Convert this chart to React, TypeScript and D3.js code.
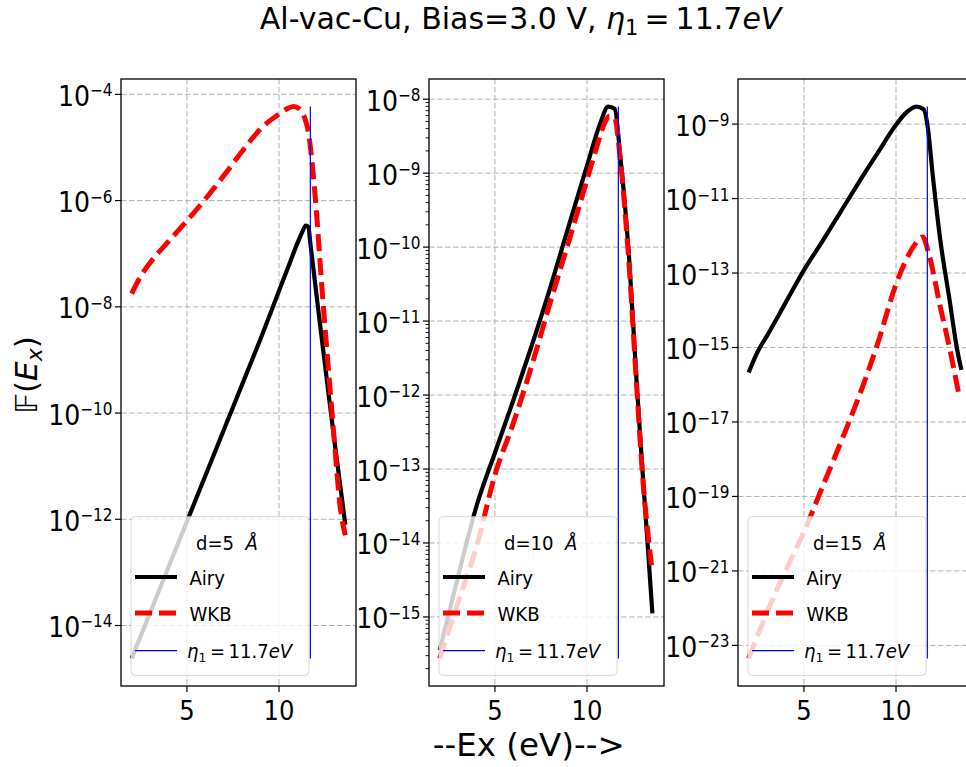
import React from "react";
import * as d3 from "d3";

// ---------------- data ----------------
const PANEL_D = ["5", "10", "15"];
const ETA1 = 11.7;
const X_TICKS = [5, 10];

// d = 5 Å
const D5_AIRY_X = [2, 3, 4, 5, 6, 7, 8, 9, 10, 10.5, 11, 11.25, 11.45, 11.6, 11.7, 12.2, 12.67, 13.0, 13.3, 13.6];
const D5_AIRY_Y = [2.4e-15, 1.74e-14, 1.26e-13, 9.1e-13, 6.6e-12, 4.79e-11, 3.47e-10, 2.51e-9, 2.0e-8, 5.62e-8, 1.58e-7, 2.51e-7, 3.39e-7, 3.16e-7, 1.58e-7, 5.6e-9, 2.6e-10, 3.16e-11, 5.0e-12, 7.9e-13];
const D5_WKB_X = [2, 2.5, 3, 4, 5, 6, 7, 8, 9, 10, 10.5, 10.8, 11.1, 11.4, 11.6, 11.8, 12.03, 12.3, 12.76, 13.0, 13.3, 13.6];
const D5_WKB_Y = [1.78e-8, 3.8e-8, 6.76e-8, 1.7e-7, 4.17e-7, 1.07e-6, 2.95e-6, 8.51e-6, 2.24e-5, 4.27e-5, 5.5e-5, 5.89e-5, 5.37e-5, 3.55e-5, 1.9e-5, 5.0e-6, 6.3e-7, 3.16e-8, 3.16e-10, 3.16e-11, 2.0e-12, 5.0e-13];

// d = 10 Å
const D10_AIRY_X = [2, 3, 4, 5, 6, 7, 8, 9, 10, 10.7, 11.15, 11.5, 11.8, 12.3, 12.7, 13.05, 13.3, 13.55];
const D10_AIRY_Y = [3.55e-16, 3.55e-15, 3.16e-14, 1.66e-13, 8.51e-13, 4.68e-12, 2.82e-11, 1.91e-10, 1.26e-9, 4.57e-9, 7.94e-9, 7.41e-9, 1.78e-9, 6.31e-11, 1.41e-12, 6.92e-14, 8.91e-15, 1.12e-15];
const D10_WKB_X = [2, 3, 4, 5, 6, 7, 8, 9, 10, 10.5, 11, 11.2, 11.5, 11.8, 12.3, 12.7, 13.05, 13.3, 13.5];
const D10_WKB_Y = [2.75e-16, 1.58e-15, 8.91e-15, 8.32e-14, 4.17e-13, 2.51e-12, 1.78e-11, 1.17e-10, 8.13e-10, 2.14e-9, 5.01e-9, 5.89e-9, 5.62e-9, 1.58e-9, 5.01e-11, 1.26e-12, 6.31e-14, 1.41e-14, 5.01e-15];

// d = 15 Å
const D15_AIRY_X = [2, 2.5, 3, 4, 5, 6, 7, 8, 9, 10, 10.5, 11.1, 11.5, 11.7, 12.0, 12.4, 12.9, 13.3, 13.55];
const D15_AIRY_Y = [2.14e-16, 7.94e-16, 2.09e-15, 1.58e-14, 1.2e-13, 7.08e-13, 4.47e-12, 2.82e-11, 1.66e-10, 9.55e-10, 1.91e-9, 2.95e-9, 2.51e-9, 1.0e-9, 3.98e-11, 7.94e-13, 2.0e-14, 1.0e-15, 2.51e-16];
const D15_WKB_X = [2, 3, 4, 5, 6, 7, 8, 9, 10, 10.5, 11, 11.45, 11.75, 12.4, 12.9, 13.45];
const D15_WKB_Y = [4.47e-24, 7.94e-23, 1.0e-21, 1.12e-20, 1.78e-19, 2.82e-18, 5.01e-17, 1.26e-15, 5.01e-14, 2.0e-13, 5.62e-13, 9.33e-13, 3.72e-13, 1.26e-14, 1.0e-15, 4.47e-17];

// y tick exponents per panel
const Y_TICKS_D5 = [-4, -6, -8, -10, -12, -14];
const Y_TICKS_D10 = [-8, -9, -10, -11, -12, -13, -14, -15];
const Y_TICKS_D15 = [-9, -11, -13, -15, -17, -19, -21, -23];

const PANELS = [
  { d: PANEL_D[0], airyX: D5_AIRY_X, airyY: D5_AIRY_Y, wkbX: D5_WKB_X, wkbY: D5_WKB_Y, ticks: Y_TICKS_D5, minor: false },
  { d: PANEL_D[1], airyX: D10_AIRY_X, airyY: D10_AIRY_Y, wkbX: D10_WKB_X, wkbY: D10_WKB_Y, ticks: Y_TICKS_D10, minor: true },
  { d: PANEL_D[2], airyX: D15_AIRY_X, airyY: D15_AIRY_Y, wkbX: D15_WKB_X, wkbY: D15_WKB_Y, ticks: Y_TICKS_D15, minor: false },
];

// ---------------- layout ----------------
const W = 966;
const H = 767;
const PANEL_LEFT = [121, 429, 738];
const PANEL_W = 235;
const TOP = 79;
const BOTTOM = 686;
const FONT = "DejaVu Sans, Liberation Sans, sans-serif";
const SX = 0.9; // horizontal squeeze of the reference glyphs

const allX = PANELS.flatMap((p) => [...p.airyX, ...p.wkbX]);
const X0 = d3.min(allX) as number;
const X1 = d3.max(allX) as number;
const XM = (X1 - X0) * 0.05;

function Panel({ p, i }: { p: (typeof PANELS)[number]; i: number }) {
  const left = PANEL_LEFT[i];
  const right = left + PANEL_W;
  const x = d3.scaleLinear().domain([X0 - XM, X1 + XM]).range([left, right]);
  const vals = [...p.airyY, ...p.wkbY];
  const lmin = Math.log10(d3.min(vals) as number);
  const lmax = Math.log10(d3.max(vals) as number);
  const m = (lmax - lmin) * 0.05;
  const y = d3.scaleLog().domain([Math.pow(10, lmin - m), Math.pow(10, lmax + m)]).range([BOTTOM, TOP]);

  const line = d3
    .line<[number, number]>()
    .x((d) => x(d[0]))
    .y((d) => y(d[1]))
    .curve(d3.curveMonotoneX);
  const airy = line(p.airyX.map((v, k) => [v, p.airyY[k]] as [number, number])) || "";
  const wkb = line(p.wkbX.map((v, k) => [v, p.wkbY[k]] as [number, number])) || "";

  const minor: number[] = [];
  if (p.minor) {
    for (let e = Math.floor(lmin - m) - 1; e <= Math.ceil(lmax + m); e++) {
      for (let k = 2; k <= 9; k++) {
        const v = k * Math.pow(10, e);
        const lv = Math.log10(v);
        if (lv > lmin - m && lv < lmax + m) minor.push(v);
      }
    }
  }

  const clipId = `clip${i}`;
  const lx = left + 10;
  const ly = 516.7;
  const lw = 178;
  const lh = 158.6;
  const rows = [577, 613, 650.7];

  return (
    <g>
      <defs>
        <clipPath id={clipId}>
          <rect x={left} y={TOP} width={PANEL_W} height={BOTTOM - TOP} />
        </clipPath>
      </defs>
      {/* grid */}
      <g stroke="#b0b0b0" strokeWidth={1} strokeDasharray="5.5 2.5" clipPath={`url(#${clipId})`}>
        {X_TICKS.map((t) => (
          <line key={"gx" + t} x1={x(t)} x2={x(t)} y1={TOP} y2={BOTTOM} />
        ))}
        {p.ticks.map((e) => (
          <line key={"gy" + e} x1={left} x2={right} y1={y(Math.pow(10, e))} y2={y(Math.pow(10, e))} />
        ))}
      </g>
      {/* data */}
      <g clipPath={`url(#${clipId})`} fill="none">
        <path d={airy} stroke="#000" strokeWidth={4.2} strokeLinejoin="round" />
        <path d={wkb} stroke="#ff0000" strokeWidth={5} strokeDasharray="17 7" />
        <line
          x1={x(ETA1)}
          x2={x(ETA1)}
          y1={y(d3.min(vals) as number)}
          y2={y(d3.max(vals) as number)}
          stroke="#0000ff"
          strokeWidth={1.2}
        />
      </g>
      {/* spines */}
      <rect x={left} y={TOP} width={PANEL_W} height={BOTTOM - TOP} fill="none" stroke="#000" strokeWidth={1.3} />
      {/* x ticks */}
      {X_TICKS.map((t) => (
        <g key={"xt" + t}>
          <line x1={x(t)} x2={x(t)} y1={BOTTOM} y2={BOTTOM + 6} stroke="#000" strokeWidth={1.2} />
          <text
            transform={`translate(${x(t)},719.5) scale(${SX},1)`}
            textAnchor="middle"
            fontSize={27}
            fontFamily={FONT}
          >
            {t}
          </text>
        </g>
      ))}
      {/* y ticks */}
      {p.ticks.map((e) => {
        const ty = y(Math.pow(10, e));
        return (
          <g key={"yt" + e}>
            <line x1={left - 6} x2={left} y1={ty} y2={ty} stroke="#000" strokeWidth={1.2} />
            <text
              transform={`translate(${left - 8.5},${ty + 11.5}) scale(${SX},1)`}
              textAnchor="end"
              fontSize={28}
              fontFamily={FONT}
            >
              10
              <tspan dy={-9.5} fontSize={17}>
                {"\u2212" + Math.abs(e)}
              </tspan>
            </text>
          </g>
        );
      })}
      {minor.map((v, k) => (
        <line key={"mt" + k} x1={left - 3.5} x2={left} y1={y(v)} y2={y(v)} stroke="#000" strokeWidth={0.9} />
      ))}
      {/* legend */}
      <g fontFamily={FONT} fontSize={19}>
        <rect x={lx} y={ly} width={lw} height={lh} rx={4} fill="#fff" fillOpacity={0.8} stroke="#cccccc" strokeOpacity={0.8} />
        <text transform={`translate(${lx + 65},550) scale(0.95,1)`}>
          {"d=" + p.d + "\u00a0\u00a0"}
          <tspan fontStyle="italic">Å</tspan>
        </text>
        <line x1={lx + 4} x2={lx + 46} y1={rows[0]} y2={rows[0]} stroke="#000" strokeWidth={4.2} />
        <text transform={`translate(${lx + 58.5},${rows[0] + 7.5}) scale(0.95,1)`}>Airy</text>
        <line x1={lx + 4} x2={lx + 46} y1={rows[1]} y2={rows[1]} stroke="#ff0000" strokeWidth={5} strokeDasharray="17 7" />
        <text transform={`translate(${lx + 58.5},${rows[1] + 7.5}) scale(0.95,1)`}>WKB</text>
        <line x1={lx + 4} x2={lx + 46} y1={rows[2]} y2={rows[2]} stroke="#0000ff" strokeWidth={1.2} />
        <text transform={`translate(${lx + 56},${rows[2] + 7.5}) scale(0.95,1)`}>
          <tspan fontStyle="italic">η</tspan>
          <tspan dy={4} fontSize={13}>
            1
          </tspan>
          <tspan dy={-4}>{"\u2009=\u200911.7"}</tspan>
          <tspan fontStyle="italic">eV</tspan>
        </text>
      </g>
    </g>
  );
}

export default function App() {
  return (
    <svg
      width={W}
      height={H}
      viewBox={`0 0 ${W} ${H}`}
      style={{ position: "absolute", left: 0, top: 0, background: "#fff" }}
    >
      <rect x={0} y={0} width={W} height={H} fill="#fff" />
      {PANELS.map((p, i) => (
        <Panel key={i} p={p} i={i} />
      ))}
      {/* title */}
      <text x={520.6} y={28.5} textAnchor="middle" fontSize={30} fontFamily={FONT}>
        {"Al-vac-Cu, Bias=3.0 V, "}
        <tspan fontStyle="italic">η</tspan>
        <tspan dy={6} fontSize={21}>
          1
        </tspan>
        <tspan dy={-6}>{"\u2009=\u200911.7"}</tspan>
        <tspan fontStyle="italic">eV</tspan>
      </text>
      {/* x label */}
      <text x={528.7} y={756} textAnchor="middle" fontSize={32.5} fontFamily={FONT}>
        --Ex (eV)--&gt;
      </text>
      {/* y label */}
      <text transform="translate(37,375) rotate(-90)" textAnchor="middle" fontSize={31} fontFamily={FONT}>
        <tspan fontStyle="italic">{"\u{1D53D}"}</tspan>
        {"("}
        <tspan fontStyle="italic">E</tspan>
        <tspan fontStyle="italic" fontSize={22} dy={5}>
          x
        </tspan>
        <tspan dy={-5}>{")"}</tspan>
      </text>
    </svg>
  );
}
